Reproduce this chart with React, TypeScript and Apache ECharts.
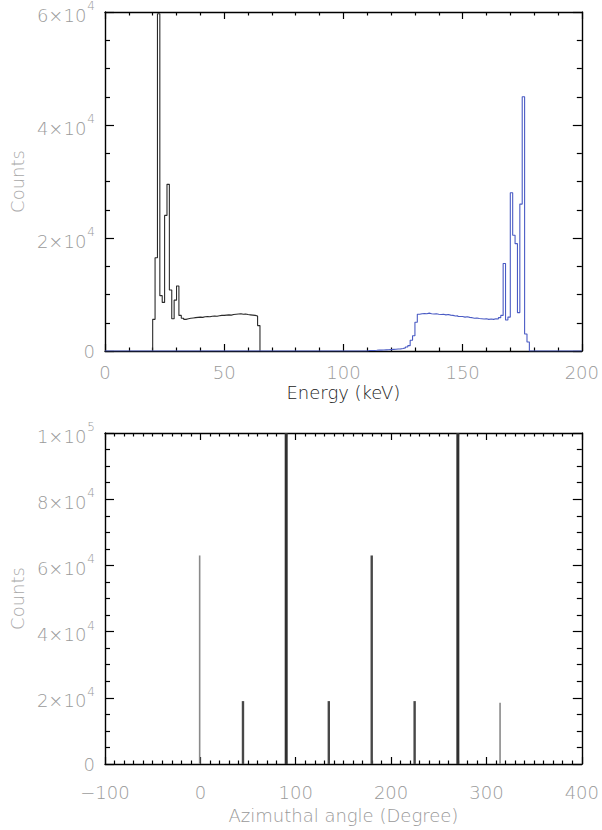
import React, { useEffect, useRef } from "react";
import * as echarts from "echarts";

// ---- Top panel: energy spectra (1 keV bins, left edges) ----
const blackBinStart = [20,21,22,23,24,25,26,27,28,29,30,31,32,33,34,35,36,37,38,39,40,41,42,43,44,45,46,47,48,49,50,51,52,53,54,55,56,57,58,59,60,61,62,63,64];
const blackCounts = [5600,16500,59700,9800,8600,24000,29500,10800,5700,9000,11500,6300,5800,5600,5700,5800,5850,5900,5950,6000,5950,6050,6100,6050,6150,6200,6150,6250,6300,6300,6350,6400,6350,6450,6500,6550,6600,6500,6550,6450,6400,6350,6300,6200,4500];
const blackEnd = 65;

const blueBinStart = [110,111,112,113,114,115,116,117,118,119,120,121,122,123,124,125,126,127,128,129,130,131,132,133,134,135,136,137,138,139,140,141,142,143,144,145,146,147,148,149,150,151,152,153,154,155,156,157,158,159,160,161,162,163,164,165,166,167,168,169,170,171,172,173,174,175,176,177];
const blueCounts = [80,100,100,120,150,150,180,200,220,250,280,300,350,380,450,550,700,950,1900,2700,5100,6500,6600,6650,6600,6700,6600,6550,6600,6500,6450,6500,6400,6450,6350,6300,6200,6250,6100,6100,6000,6050,5950,5900,5800,5850,5750,5700,5650,5700,5600,5650,5600,5700,5650,5900,6300,15500,5500,6000,28000,20500,19000,6800,26000,45000,3000,1600];
const blueEnd = 178;

// ---- Bottom panel: azimuthal angle distribution ----
const angles = [0, 45, 90, 135, 180, 225, 270, 315];
const angleCounts = [63000, 19000, 100000, 19000, 63000, 19000, 100000, 18500];

// axis ranges / ticks
const energyTicks = { min: 0, max: 200, interval: 50 };
const countsTopTicks = { min: 0, max: 60000, interval: 20000 };
const angleTicks = { min: -100, max: 400, interval: 100 };
const countsBottomTicks = { min: 0, max: 100000, interval: 20000 };

const FONT = "DejaVu Sans";
const LABEL_COLOR = "#9a9a9a";

function sciFormatter(v: number): string {
  if (v === 0) return "0";
  const e = Math.floor(Math.log10(v));
  const m = Math.round(v / Math.pow(10, e));
  return `{m|${m}×10}{e|${e}}`;
}

const sciRich = {
  m: { fontSize: 18, fontFamily: FONT, fontWeight: 200, color: LABEL_COLOR, lineHeight: 24, verticalAlign: "bottom" },
  e: { fontSize: 12, fontFamily: FONT, fontWeight: 200, color: LABEL_COLOR, lineHeight: 24, verticalAlign: "top", padding: [0, 0, 0, 1] },
};

function xAxisDef(gridIndex: number, position: "top" | "bottom", r: any, minorSplit: number, labelMargin = 12, nameGap = 32, name?: string, nameColor?: string, fmt?: (v: number) => string) {
  const main = position === "bottom";
  return {
    type: "value",
    gridIndex,
    position,
    min: r.min,
    max: r.max,
    interval: r.interval,
    name: main ? name : "",
    nameLocation: "middle",
    nameGap,
    nameTextStyle: { fontFamily: FONT, fontSize: 18, fontWeight: 200, color: nameColor },
    axisLine: { show: true, onZero: false, lineStyle: { color: "#000", width: 1.4 } },
    axisTick: { show: true, inside: true, length: 7, lineStyle: { color: "#000", width: 1.2 } },
    minorTick: { show: true, splitNumber: minorSplit, length: 3.5, lineStyle: { color: "#000", width: 1.2 } },
    splitLine: { show: false },
    minorSplitLine: { show: false },
    axisLabel: {
      show: main,
      margin: labelMargin,
      fontFamily: FONT,
      fontSize: 18,
      fontWeight: 200,
      color: LABEL_COLOR,
      formatter: fmt,
    },
  };
}

function yAxisDef(gridIndex: number, position: "left" | "right", r: any, minorSplit: number) {
  const main = position === "left";
  return {
    type: "value",
    gridIndex,
    position,
    min: r.min,
    max: r.max,
    interval: r.interval,
    name: main ? "Counts" : "",
    nameLocation: "middle",
    nameGap: 78,
    nameTextStyle: { fontFamily: FONT, fontSize: 18, fontWeight: 200, color: "#a8a8a8" },
    axisLine: { show: true, onZero: false, lineStyle: { color: "#000", width: 1.4 } },
    axisTick: { show: true, inside: true, length: 9, lineStyle: { color: "#000", width: 1.2 } },
    minorTick: { show: true, splitNumber: minorSplit, length: 5, lineStyle: { color: "#000", width: 1.2 } },
    splitLine: { show: false },
    minorSplitLine: { show: false },
    axisLabel: {
      show: main,
      margin: 10,
      formatter: sciFormatter,
      rich: sciRich,
      fontFamily: FONT,
      fontSize: 18,
      fontWeight: 200,
      color: LABEL_COLOR,
    },
  };
}

function histPoints(starts: number[], counts: number[], end: number, lead?: number, trail?: number) {
  const pts: number[][] = [];
  if (lead !== undefined) pts.push([lead, 0]);
  pts.push([starts[0], 0]);
  starts.forEach((s, i) => pts.push([s, counts[i]]));
  pts.push([end, 0]);
  if (trail !== undefined) pts.push([trail, 0]);
  return pts;
}

const barGroups = [
  { idx: [0, 7], width: 1.6, color: "#8a8a8a" },
  { idx: [1, 3, 4, 5], width: 2.4, color: "#484848" },
  { idx: [2, 6], width: 3, color: "#303030" },
];

export default function App() {
  const ref = useRef<HTMLDivElement>(null);
  useEffect(() => {
    if (!ref.current) return;
    const chart = echarts.init(ref.current, null, { renderer: "svg" });
    const option: any = {
      animation: false,
      backgroundColor: "#fff",
      grid: [
        { left: 105, top: 12, width: 479, height: 339 },
        { left: 105, top: 433, width: 479, height: 331 },
      ],
      xAxis: [
        xAxisDef(0, "bottom", energyTicks, 5, 12, 32, "Energy (keV)", "#222"),
        xAxisDef(0, "top", energyTicks, 5),
        xAxisDef(1, "bottom", angleTicks, 10, 19, 42, "Azimuthal angle (Degree)", "#999", (v: number) => (v < 0 ? "−" + Math.abs(v) : String(v))),
        xAxisDef(1, "top", angleTicks, 10),
      ],
      yAxis: [
        yAxisDef(0, "left", countsTopTicks, 4),
        yAxisDef(0, "right", countsTopTicks, 4),
        yAxisDef(1, "left", countsBottomTicks, 4),
        yAxisDef(1, "right", countsBottomTicks, 4),
      ],
      series: [
        {
          type: "line",
          xAxisIndex: 0,
          yAxisIndex: 0,
          step: "end",
          symbol: "none",
          lineStyle: { color: "#2a2a2a", width: 1.1 },
          data: histPoints(blackBinStart, blackCounts, blackEnd),
          z: 3,
        },
        {
          type: "line",
          xAxisIndex: 0,
          yAxisIndex: 0,
          step: "end",
          symbol: "none",
          lineStyle: { color: "#4a5bc4", width: 1.1 },
          data: histPoints(blueBinStart, blueCounts, blueEnd, energyTicks.min, energyTicks.max),
          z: 4,
        },
        ...barGroups.map((g) => ({
          type: "bar",
          xAxisIndex: 2,
          yAxisIndex: 2,
          barWidth: g.width,
          barGap: "-100%",
          itemStyle: { color: g.color },
          data: g.idx.map((i) => [angles[i], angleCounts[i]]),
        })),
      ],
    };
    chart.setOption(option);
    return () => chart.dispose();
  }, []);
  return (
    <div
      ref={ref}
      style={{ position: "fixed", left: 0, top: 0, width: 602, height: 830, background: "#fff" }}
    />
  );
}
